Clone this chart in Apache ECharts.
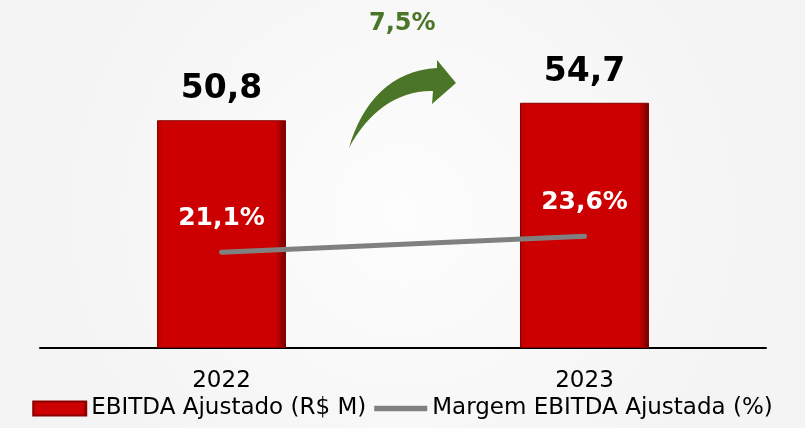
<!DOCTYPE html>
<html>
<head>
<meta charset="utf-8">
<script src="https://cdn.jsdelivr.net/npm/echarts@6/dist/echarts.min.js"></script>
<style>
  html, body { margin: 0; padding: 0; }
  #chart { width: 805px; height: 428px; }
</style>
</head>
<body>
<div id="chart"></div>
<script>
// dados
const anos = ['2022', '2023'];
const ebitda = [50.8, 54.7];
const margem = [21.1, 23.6];
const crescimento = '7,5%';

const FONT = 'DejaVu Sans';
const fmt = (v) => String(v).replace('.', ',');

// seta verde (SVG em data URI, origem em 340,55)
const arrowSvg =
  '<svg xmlns="http://www.w3.org/2000/svg" width="125" height="100" viewBox="0 0 125 100">' +
  '<path d="M 9 93 C 22 47, 52 15, 97 13 L 97 5 L 116 28 L 92 49 L 93 36 C 58 35, 28 57, 9 93 Z" fill="#4b7627"/>' +
  '</svg>';
const arrowUrl = 'data:image/svg+xml;charset=utf-8,' + encodeURIComponent(arrowSvg);

const chart = echarts.init(document.getElementById('chart'));

const option = {
  backgroundColor: {
    type: 'radial', x: 0.5, y: 0.5, r: 0.8,
    colorStops: [
      { offset: 0, color: '#fdfdfd' },
      { offset: 1, color: '#f4f4f4' }
    ]
  },
  textStyle: { fontFamily: FONT },
  animation: false,
  grid: { left: 40, right: 39, top: 79, bottom: 80 },
  legend: {
    bottom: 3,
    left: 'center',
    itemWidth: 53,
    itemHeight: 14,
    itemGap: 8,
    textStyle: { fontSize: 23, color: '#000', fontFamily: FONT },
    data: [
      { name: 'EBITDA Ajustado (R$ M)', icon: 'rect' },
      {
        name: 'Margem EBITDA Ajustada (%)',
        icon: 'path://M0 0 H100 V10 H0 Z',
        itemStyle: { color: '#808080' }
      }
    ]
  },
  xAxis: {
    type: 'category',
    data: anos,
    axisLine: { lineStyle: { color: '#000', width: 2 } },
    axisTick: { show: false },
    axisLabel: { fontSize: 23, color: '#000', margin: 22 }
  },
  yAxis: [
    { type: 'value', min: 0, max: 60, show: false, splitLine: { show: false } },
    { type: 'value', min: 6, max: 48.4, show: false, splitLine: { show: false } }
  ],
  series: [
    {
      name: 'EBITDA Ajustado (R$ M)',
      type: 'bar',
      data: ebitda,
      barWidth: 129,
      itemStyle: {
        color: {
          type: 'linear', x: 0, y: 0, x2: 1, y2: 0,
          colorStops: [
            { offset: 0, color: '#b80000' },
            { offset: 0.05, color: '#cc0000' },
            { offset: 0.92, color: '#cc0000' },
            { offset: 1, color: '#700000' }
          ]
        },
        borderColor: '#8a0000',
        borderWidth: 1
      },
      label: {
        show: true,
        position: 'top',
        distance: 14,
        fontSize: 33,
        fontWeight: 'bold',
        color: '#000',
        formatter: (p) => fmt(p.value)
      }
    },
    {
      name: 'Margem EBITDA Ajustada (%)',
      type: 'line',
      yAxisIndex: 1,
      data: margem,
      symbol: 'circle',
      symbolSize: 1,
      showSymbol: true,
      lineStyle: { color: '#808080', width: 5, cap: 'round' },
      itemStyle: { color: '#808080' },
      label: {
        show: true,
        position: 'top',
        distance: 21,
        fontSize: 25,
        fontWeight: 'bold',
        color: '#fff',
        formatter: (p) => fmt(p.value) + '%'
      },
      z: 5
    }
  ],
  graphic: [
    {
      type: 'image',
      left: 340,
      top: 55,
      style: { image: arrowUrl, width: 125, height: 100 }
    },
    {
      type: 'text',
      left: 369,
      top: 12,
      style: {
        text: crescimento,
        fontSize: 24,
        fontWeight: 'bold',
        fontFamily: FONT,
        fill: '#4b7627'
      }
    }
  ]
};

chart.setOption(option);
</script>
</body>
</html>
